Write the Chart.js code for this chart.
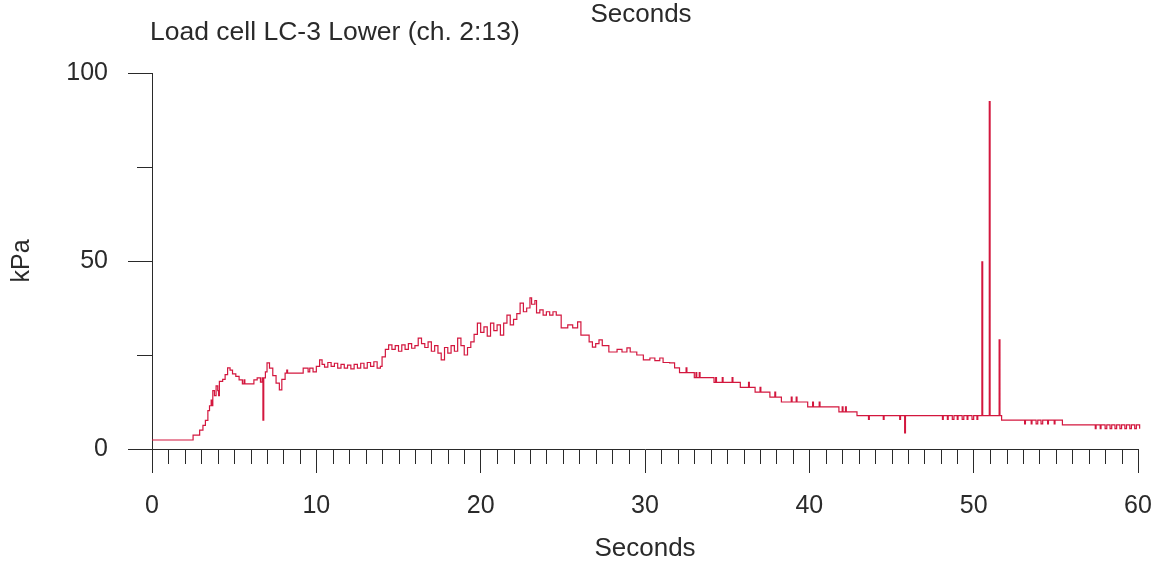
<!DOCTYPE html>
<html>
<head>
<meta charset="utf-8">
<script src="https://cdn.jsdelivr.net/npm/chart.js@4.4.1/dist/chart.umd.min.js"></script>
<style>
  body { margin: 0; background: #fff; }
  #grafico { display: block; }
</style>
</head>
<body>
<canvas id="grafico" width="1160" height="562"></canvas>
<script>
// Load cell LC-3 Lower (ch. 2:13)
const seconds = [
  0, 2.5, 2.9, 3.1, 3.25, 3.4, 3.5, 3.6, 3.65, 3.7, 3.8, 3.9, 4.0, 4.05, 4.1, 4.3, 4.45, 4.6, 4.75, 4.9,
  5.1, 5.3, 5.5, 5.6, 5.65, 5.9, 6.2, 6.4, 6.6, 6.7, 6.75, 6.8, 6.9, 7.0, 7.15, 7.35, 7.55, 7.75, 7.9, 8.1,
  8.2, 8.25, 9.2, 9.5, 9.6, 9.8, 10.0, 10.2, 10.35, 10.5, 10.7, 10.9, 11.1, 11.3, 11.5, 11.7, 11.9, 12.1, 12.3, 12.5,
  12.7, 12.9, 13.1, 13.3, 13.5, 13.7, 13.9, 14.0, 14.2, 14.4, 14.6, 14.8, 15.0, 15.2, 15.4, 15.6, 15.8, 16.0, 16.2, 16.4,
  16.6, 16.8, 17.0, 17.2, 17.4, 17.6, 17.8, 18.0, 18.2, 18.4, 18.6, 18.8, 19.0, 19.2, 19.4, 19.6, 19.8, 20.0, 20.2, 20.4,
  20.6, 20.8, 21.0, 21.2, 21.4, 21.6, 21.8, 22.0, 22.2, 22.4, 22.6, 22.8, 23.0, 23.1, 23.3, 23.4, 23.6, 23.8, 24.0, 24.2,
  24.4, 24.6, 24.9, 25.3, 25.6, 25.9, 26.1, 26.6, 26.8, 27.0, 27.2, 27.4, 27.8, 28.3, 28.6, 28.9, 29.1, 29.5, 29.9, 30.3,
  30.6, 30.9, 31.1, 31.5, 31.8, 32.1, 32.5, 32.55, 33.0, 33.1, 33.15, 33.3, 33.35, 34.2, 34.3, 34.35, 34.7, 34.75, 35.3, 35.35,
  35.8, 36.3, 36.35, 36.7, 37.0, 37.05, 37.6, 37.9, 37.95, 38.3, 38.9, 38.95, 39.2, 39.25, 39.9, 40.2, 40.25, 40.6, 40.65, 41.8,
  42.0, 42.05, 42.2, 42.25, 42.9, 43.6, 43.65, 44.5, 44.55, 45.5, 45.55, 45.8, 45.85, 48.1, 48.15, 48.4, 48.45, 48.7, 48.8, 49.0,
  49.05, 49.3, 49.4, 49.6, 49.65, 49.9, 50.0, 50.2, 50.25, 50.5, 50.55, 50.95, 51.0, 51.55, 51.6, 51.7, 53.1, 53.15, 53.5, 53.55,
  53.8, 53.9, 54.1, 54.2, 54.5, 54.55, 54.9, 54.95, 55.4, 57.4, 57.45, 57.7, 57.75, 58.0, 58.1, 58.3, 58.4, 58.6, 58.7, 58.9,
  59.0, 59.2, 59.3, 59.5, 59.6, 59.8, 59.9, 60.1, 60.2, 60.5
];
const kPa = [
  2.4, 3.7, 5.0, 6.3, 7.6, 10.2, 11.5, 13.0, 11.5, 15.5, 14.2, 16.8, 15.5, 14.2, 18.0, 18.5, 19.8, 21.6, 21.0, 20.0,
  19.3, 18.4, 17.3, 18.4, 17.3, 17.3, 18.4, 18.9, 17.8, 18.9, 7.7, 18.9, 20.5, 22.9, 21.5, 19.5, 17.5, 15.7, 18.5, 20.2,
  21.0, 20.2, 21.5, 20.5, 21.5, 20.5, 22.0, 23.7, 22.5, 21.8, 23.0, 22.0, 22.8, 21.5, 22.5, 21.5, 22.3, 21.3, 22.5, 21.5,
  22.8, 21.5, 23.0, 22.0, 23.2, 21.5, 22.0, 24.5, 26.5, 27.7, 26.5, 27.5, 26.0, 27.7, 26.5, 28.0, 26.8, 27.5, 29.5, 28.0,
  27.0, 28.5, 26.0, 27.5, 25.5, 23.7, 27.0, 25.5, 27.5, 26.0, 29.5, 27.5, 25.0, 27.0, 28.5, 30.5, 33.5, 31.0, 32.5, 30.0,
  33.5, 31.5, 33.0, 30.3, 33.5, 35.6, 33.0, 34.5, 36.0, 38.8, 36.5, 37.5, 40.2, 38.5, 39.5, 36.2, 37.0, 35.6, 36.5, 35.6,
  36.5, 35.6, 32.2, 33.0, 32.2, 33.8, 30.3, 28.5, 27.1, 28.0, 29.0, 27.5, 25.8, 26.5, 25.8, 26.9, 25.8, 25.0, 23.7, 24.2,
  23.5, 24.2, 23.0, 22.9, 21.6, 20.3, 21.6, 20.3, 19.0, 20.3, 19.0, 20.3, 19.0, 17.7, 19.0, 17.7, 19.0, 17.7, 19.0, 17.7,
  16.4, 17.7, 16.4, 15.1, 16.4, 15.1, 13.8, 15.1, 13.8, 12.5, 13.8, 12.5, 13.8, 12.5, 11.2, 12.5, 11.2, 12.5, 11.2, 9.9,
  11.2, 9.9, 11.2, 9.9, 8.9, 7.9, 8.9, 7.9, 8.9, 7.9, 8.9, 4.3, 8.9, 7.9, 8.9, 7.9, 8.9, 7.9, 8.9, 7.9,
  8.9, 7.9, 8.9, 7.9, 8.9, 7.9, 8.9, 7.9, 8.9, 49.8, 8.9, 92.4, 8.9, 29.0, 8.9, 7.7, 6.7, 7.7, 6.7, 7.7,
  6.7, 7.7, 6.7, 7.7, 6.7, 7.7, 6.7, 7.7, 6.4, 5.4, 6.4, 5.4, 6.4, 5.4, 6.4, 5.4, 6.4, 5.4, 6.4, 5.4,
  6.4, 5.4, 6.4, 5.4, 6.4, 5.4, 6.4, 5.4, 6.4, 6.4
];
const xTickLabels = [0, 10, 20, 30, 40, 50, 60];
const yTickLabels = [0, 50, 100];
const yMinorTicks = [25, 75];

const fuente = "'Liberation Sans', Arial, sans-serif";
const tinta = "#2a2a2a";

// ticks cortos (cada segundo en X, 25/75 en Y) y los textos de arriba
const marcas = {
  id: "marcas",
  afterDraw(chart) {
    const ctx = chart.ctx;
    const x = chart.scales.x;
    const y = chart.scales.y;
    ctx.save();
    ctx.strokeStyle = tinta;
    ctx.lineWidth = 1;
    ctx.beginPath();
    for (let s = 1; s < 60; s++) {
      if (s % 10 === 0) continue;
      const px = Math.round(x.getPixelForValue(s)) + 0.5;
      ctx.moveTo(px, x.top);
      ctx.lineTo(px, x.top + 15);
    }
    yMinorTicks.forEach(v => {
      const py = Math.round(y.getPixelForValue(v)) + 0.5;
      ctx.moveTo(y.right - 15, py);
      ctx.lineTo(y.right, py);
    });
    ctx.stroke();

    ctx.fillStyle = tinta;
    ctx.textBaseline = "middle";
    ctx.textAlign = "center";
    ctx.font = "26px " + fuente;
    ctx.fillText("Seconds", 641, 15);
    ctx.textAlign = "left";
    ctx.font = "26.5px " + fuente;
    ctx.fillText("Load cell LC-3 Lower (ch. 2:13)", 150, 33);
    ctx.restore();
  }
};

new Chart(document.getElementById("grafico").getContext("2d"), {
  type: "line",
  data: {
    datasets: [{
      data: seconds.map((t, i) => ({ x: t, y: kPa[i] })),
      borderColor: "#d3173e",
      borderWidth: 1.2,
      pointRadius: 0,
      stepped: true,
      clip: false
    }]
  },
  options: {
    responsive: false,
    animation: false,
    layout: { padding: { top: 73, right: 22, left: 0, bottom: 0 } },
    plugins: {
      legend: { display: false },
      tooltip: { enabled: false }
    },
    scales: {
      x: {
        type: "linear",
        min: 0,
        max: 60,
        afterBuildTicks: s => { s.ticks = xTickLabels.map(v => ({ value: v })); },
        afterFit: s => { s.height = 113; s.paddingLeft = 0; s.paddingRight = 0; },
        ticks: { color: tinta, padding: 18, maxRotation: 0, font: { family: fuente, size: 25 } },
        grid: { drawOnChartArea: false, tickLength: 24, color: tinta },
        border: { color: tinta, width: 1 },
        title: { display: true, text: "Seconds", color: tinta, padding: 0, font: { family: fuente, size: 26, lineHeight: 1 } }
      },
      y: {
        min: 0,
        max: 100,
        afterBuildTicks: s => { s.ticks = yTickLabels.map(v => ({ value: v })); },
        afterFit: s => { s.width = 152; },
        ticks: { color: tinta, padding: 20, font: { family: fuente, size: 25 } },
        grid: { drawOnChartArea: false, tickLength: 24, color: tinta },
        border: { color: tinta, width: 1 },
        title: { display: true, text: "kPa", color: tinta, padding: { top: 7, bottom: 0 }, font: { family: fuente, size: 25 } }
      }
    }
  },
  plugins: [marcas]
});
</script>
</body>
</html>
